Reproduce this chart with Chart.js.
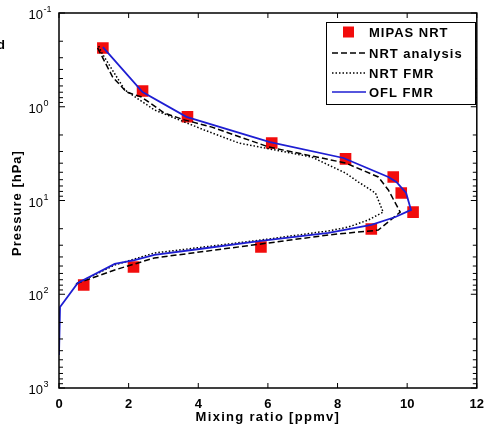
<!DOCTYPE html>
<html>
<head>
<meta charset="utf-8">
<script src="https://cdn.jsdelivr.net/npm/chart.js@4"></script>
<style>
  html, body { margin: 0; padding: 0; background: #fff; }
</style>
</head>
<body>
<canvas id="grafico" width="485" height="432"></canvas>
<script>
// Data: mixing ratio [ppmv] vs pressure [hPa]
const mipasX = [1.26, 2.40, 3.69, 6.11, 8.23, 9.60, 9.83, 10.17, 8.97, 5.80, 2.14, 0.71];
const mipasP = [0.236, 0.68, 1.28, 2.44, 3.6, 5.61, 8.32, 13.3, 20.1, 31.3, 51.2, 79.6];

const analysisX = [1.11, 1.54, 1.94, 2.37, 3.03, 3.60, 4.37, 6.03, 8.23, 9.17, 9.46, 9.80, 9.17, 7.74, 5.80, 2.74, 1.60, 0.54, 0.46];
const analysisP = [0.236, 0.482, 0.697, 0.788, 1.17, 1.38, 1.64, 2.69, 3.98, 5.61, 7.73, 13.3, 20.7, 23.3, 29.1, 41.0, 55.1, 75.9, 79];

const fmrX = [1.14, 1.23, 1.89, 2.74, 4.17, 5.17, 7.26, 8.23, 8.60, 9.09, 9.31, 8.89, 8.31, 7.74, 5.80, 2.74, 1.60, 0.54, 0.46];
const fmrP = [0.225, 0.267, 0.662, 1.08, 1.77, 2.44, 3.44, 5.09, 6.35, 8.32, 13.3, 16.1, 19.2, 21.1, 26.4, 36.3, 48.8, 75.9, 79];

const oflX = [1.26, 2.40, 3.66, 6.06, 8.17, 9.46, 9.69, 9.97, 10.11, 9.66, 8.97, 7.74, 5.80, 4.03, 2.74, 2.17, 1.60, 0.54, 0.03, 0];
const oflP = [0.231, 0.697, 1.28, 2.38, 3.52, 5.61, 6.35, 8.32, 12.6, 15.0, 18.2, 22.2, 27.0, 32.9, 38.1, 43.2, 47.5, 75.9, 137, 445];

const xTicks = [0, 2, 4, 6, 8, 10, 12];
const yExponents = [-1, 0, 1, 2, 3];
const yExpLabels = ["-1", "0", "1", "2", "3"];

const legendLabels = ["MIPAS NRT", "NRT analysis", "NRT FMR", "OFL FMR"];

const BLUE = "#1e1ed2";
const RED = "#f20c0c";

function puntos(xs, ps) {
    return xs.map((x, i) => ({ x: x, y: ps[i] }));
}

function linea(ctx, x1, y1, x2, y2) {
    ctx.beginPath();
    ctx.moveTo(x1, y1);
    ctx.lineTo(x2, y2);
    ctx.stroke();
}

// frame, inward ticks, tick labels, titles and legend
const marcoPlugin = {
    id: "marco",
    afterDraw(chart) {
        const ctx = chart.ctx;
        const a = chart.chartArea;
        const xs = chart.scales.x;
        const ys = chart.scales.y;
        ctx.save();
        ctx.strokeStyle = "#000";
        ctx.fillStyle = "#000";

        ctx.lineWidth = 1.5;
        ctx.strokeRect(a.left, a.top, a.right - a.left, a.bottom - a.top);

        ctx.lineWidth = 1;
        xTicks.forEach((v) => {
            const px = xs.getPixelForValue(v);
            linea(ctx, px, a.bottom, px, a.bottom - 5);
            linea(ctx, px, a.top, px, a.top + 5);
        });
        yExponents.forEach((e) => {
            for (let m = 1; m <= 9; m++) {
                if (e === 3 && m > 1) break;
                const py = ys.getPixelForValue(m * Math.pow(10, e));
                const len = m === 1 ? 6 : 4;
                linea(ctx, a.left, py, a.left + len, py);
                linea(ctx, a.right, py, a.right - len, py);
            }
        });

        // x tick labels
        ctx.font = "bold 13px 'Liberation Sans', Arial, sans-serif";
        ctx.textAlign = "center";
        ctx.textBaseline = "alphabetic";
        xTicks.forEach((v) => {
            ctx.fillText(String(v), xs.getPixelForValue(v), 408);
        });

        // y tick labels 10^n
        yExponents.forEach((e, i) => {
            const py = ys.getPixelForValue(Math.pow(10, e));
            ctx.font = "13px 'Liberation Sans', Arial, sans-serif";
            ctx.textAlign = "right";
            ctx.fillText("10", 43, py + 6);
            ctx.font = "9px 'Liberation Sans', Arial, sans-serif";
            ctx.textAlign = "left";
            ctx.fillText(yExpLabels[i], 43.5, py - 1);
        });

        // axis titles
        ctx.font = "bold 13px 'Liberation Sans', Arial, sans-serif";
        ctx.textAlign = "center";
        ctx.letterSpacing = "1.3px";
        ctx.fillText("Mixing ratio [ppmv]", (a.left + a.right) / 2, 421);
        ctx.save();
        ctx.translate(21, 203);
        ctx.rotate(-Math.PI / 2);
        ctx.letterSpacing = "1px";
        ctx.fillText("Pressure [hPa]", 0, 0);
        ctx.restore();
        ctx.letterSpacing = "0px";

        // clipped panel letter at the left edge
        ctx.textAlign = "left";
        ctx.fillText("d", -3, 49);

        // legend
        ctx.fillStyle = "#fff";
        ctx.fillRect(326, 22, 149, 82);
        ctx.lineWidth = 1;
        ctx.strokeStyle = "#000";
        ctx.strokeRect(326.5, 22.5, 149, 82);
        const rows = [32, 53, 73, 92];
        ctx.font = "bold 13px 'Liberation Sans', Arial, sans-serif";
        ctx.letterSpacing = "1px";
        ctx.textBaseline = "middle";
        legendLabels.forEach((t, i) => {
            const y = rows[i];
            ctx.fillStyle = "#000";
            ctx.fillText(t, 369, y + 1);
            if (i === 0) {
                ctx.fillStyle = RED;
                ctx.fillRect(343, y - 5.5, 11, 11);
            } else {
                ctx.strokeStyle = i === 3 ? BLUE : "#000";
                ctx.lineWidth = 1.5;
                ctx.setLineDash(i === 1 ? [6, 3] : i === 2 ? [1.5, 2] : []);
                linea(ctx, 332, y, 366, y);
                ctx.setLineDash([]);
            }
        });
        ctx.restore();
    }
};

const ctx = document.getElementById("grafico").getContext("2d");
window.myChart = new Chart(ctx, {
    type: "scatter",
    data: {
        datasets: [
            {
                label: "MIPAS NRT",
                data: puntos(mipasX, mipasP),
                pointStyle: "rect",
                pointRadius: 8.2,
                pointHoverRadius: 8.2,
                backgroundColor: RED,
                borderWidth: 0,
                showLine: false,
                order: 4
            },
            {
                label: "NRT analysis",
                data: puntos(analysisX, analysisP),
                showLine: true,
                borderColor: "#000",
                borderWidth: 1.5,
                borderDash: [6, 3],
                pointRadius: 0,
                fill: false,
                order: 3
            },
            {
                label: "NRT FMR",
                data: puntos(fmrX, fmrP),
                showLine: true,
                borderColor: "#000",
                borderWidth: 1.5,
                borderDash: [1.5, 2],
                pointRadius: 0,
                fill: false,
                order: 2
            },
            {
                label: "OFL FMR",
                data: puntos(oflX, oflP),
                showLine: true,
                borderColor: BLUE,
                borderWidth: 1.8,
                pointRadius: 0,
                fill: false,
                order: 1
            }
        ]
    },
    options: {
        responsive: false,
        animation: false,
        devicePixelRatio: 1,
        layout: { padding: { left: 59, right: 6, top: 13, bottom: 44 } },
        plugins: {
            legend: { display: false },
            tooltip: { enabled: false }
        },
        scales: {
            x: { type: "linear", min: 0, max: 12, display: false },
            y: { type: "logarithmic", min: 0.1, max: 1000, reverse: true, display: false }
        }
    },
    plugins: [marcoPlugin]
});
</script>
</body>
</html>
